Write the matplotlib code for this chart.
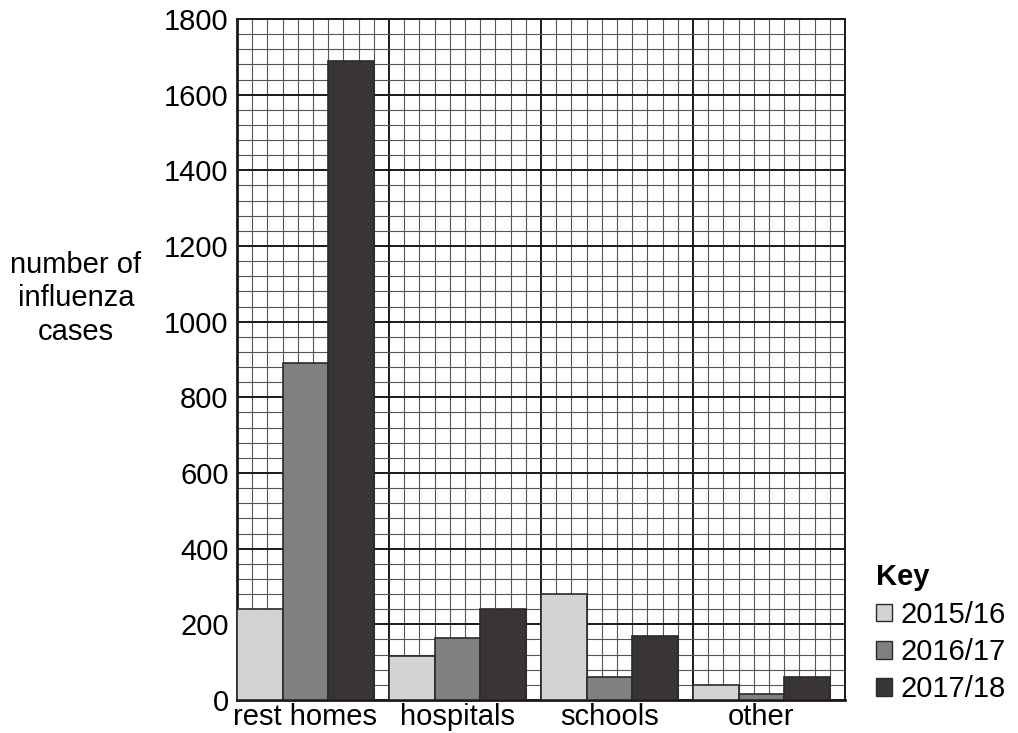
import matplotlib.pyplot as plt
from matplotlib.patches import Patch

plt.rcParams['font.family'] = ['Liberation Sans', 'DejaVu Sans']

categories = ["rest homes", "hospitals", "schools", "other"]
seasons = ["2015/16", "2016/17", "2017/18"]
cases_1516 = [240, 115, 280, 40]
cases_1617 = [890, 165, 60, 15]
cases_1718 = [1690, 240, 170, 60]
colors = ["#d3d3d3", "#808080", "#393536"]

FS = 21

fig = plt.figure(figsize=(10.18, 7.33), dpi=100)
ax = fig.add_axes([237 / 1018, 33 / 733, 608 / 1018, 681 / 733])

# each category is 10 grid squares wide, bars are 3 squares each
for i, vals in enumerate([cases_1516, cases_1617, cases_1718]):
    xs = [c * 10 + i * 3 for c in range(len(categories))]
    ax.bar(xs, vals, width=3, align='edge', color=colors[i],
           edgecolor="#2a2a2a", linewidth=1.2, zorder=3)

ax.set_xlim(0, 40)
ax.set_ylim(0, 1800)

ax.set_yticks(range(0, 1801, 200))
ax.set_yticks(range(0, 1801, 40), minor=True)
ax.set_xticks(range(0, 41, 10))
ax.set_xticks(range(0, 41, 1), minor=True)
ax.grid(which='minor', color="#555555", linewidth=0.8, zorder=0)
ax.grid(which='major', color="#1a1a1a", linewidth=1.4, zorder=1)
ax.tick_params(which='both', length=0)
ax.tick_params(axis='y', labelsize=FS, pad=6)
ax.set_xticklabels([])

for c, name in enumerate(categories):
    ax.text(c * 10 + 4.5, -8, name, ha='center', va='top', fontsize=FS)

for side in ['top', 'right']:
    ax.spines[side].set_color("#1a1a1a")
    ax.spines[side].set_linewidth(1.4)
for side in ['left', 'bottom']:
    ax.spines[side].set_color("#1a1a1a")
    ax.spines[side].set_linewidth(2)

fig.text(76 / 1018, 1 - 298 / 733, "number of\ninfluenza\ncases",
         ha='center', va='center', fontsize=FS, linespacing=1.25)

handles = [Patch(facecolor=colors[i], edgecolor="#2a2a2a", label=s)
           for i, s in enumerate(seasons)]
leg = ax.legend(handles=handles, title="Key", loc='lower left',
                bbox_to_anchor=(1.051, -0.005), frameon=False, fontsize=FS,
                handlelength=0.55, handleheight=0.55, handletextpad=0.3,
                labelspacing=0.32, borderaxespad=0, borderpad=0)
leg.get_title().set_fontweight('bold')
leg.get_title().set_fontsize(FS)
leg._legend_box.align = "left"

fig.savefig("out.png", dpi=100)
